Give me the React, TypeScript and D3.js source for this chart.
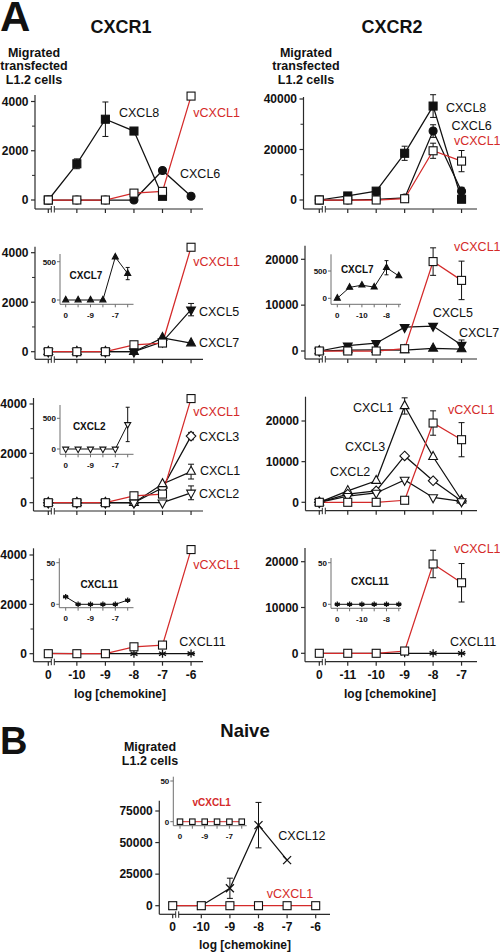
import React from "react";
import * as d3 from "d3";

const FONT = "'Liberation Sans', Arial, Helvetica, sans-serif";
const RED = "#d42a2a";

// ---- dose labels ----
const cxcr1Doses = ["0", "-10", "-9", "-8", "-7", "-6"];
const cxcr2Doses = ["0", "-11", "-10", "-9", "-8", "-7"];
const naiveDoses = ["0", "-10", "-9", "-8", "-7", "-6"];
const cxcr1InsetDoses = ["0", "", "-9", "", "-7", ""];
const cxcr2InsetDoses = ["0", "", "-10", "", "-8", ""];

// ---- CXCR1 data ----
const r1_vCXCL1 = [0, 0, 0, 280, 350, 4220];
const r1_CXCL8 = [0, 1470, 3280, 2800, 150, null];
const r1_CXCL8_err = [0, 200, 700, 0, 0, 0];
const r1_CXCL6 = [0, 0, 0, 0, 1200, 150];
const r1_CXCL5 = [0, 0, 0, 0, 400, 1700];
const r1_CXCL5_err = [0, 0, 0, 0, 0, 250];
const r1_CXCL7 = [0, 0, 0, 0, 560, 345];
const r1_CXCL7_err = [0, 0, 0, 0, 0, 80];
const r1_CXCL3 = [0, 0, 0, 0, 600, 2700];
const r1_CXCL3_err = [0, 0, 0, 0, 0, 150];
const r1_CXCL1 = [0, 0, 0, 0, 760, 1260];
const r1_CXCL1_err = [0, 0, 0, 0, 0, 300];
const r1_CXCL2 = [0, 0, 0, 0, 0, 400];
const r1_CXCL2_err = [0, 0, 0, 0, 0, 280];
const r1_CXCL11 = [9, 0, 0, 0, 0, 5];

// ---- CXCR2 data ----
const r2_vCXCL1 = [0, 0, 0, 500, 19500, 15400];
const r2_vCXCL1_err = [0, 0, 0, 0, 3000, 4200];
const r2_CXCL8 = [0, 1600, 3500, 18500, 37200, 300];
const r2_CXCL8_err = [0, 0, 0, 2800, 4500, 0];
const r2_CXCL6 = [0, 0, 200, 800, 27300, 3500];
const r2_CXCL6_err = [0, 0, 0, 0, 2500, 1500];
const r2_CXCL5 = [0, 1150, 1700, 5200, 5450, 1300];
const r2_CXCL5_err = [0, 0, 0, 0, 0, 1100];
const r2_CXCL7 = [0, 200, 240, 205, 560, 410];
const r2_CXCL7_err = [0, 0, 0, 0, 130, 0];
const r2_CXCL1 = [0, 2800, 5300, 23700, 11200, 500];
const r2_CXCL1_err = [0, 0, 0, 2000, 0, 0];
const r2_CXCL3 = [0, 2000, 2800, 11400, 5300, 300];
const r2_CXCL2 = [0, 1500, 2300, 5500, 1200, 200];
const r2_CXCL11 = [0, 0, 0, 0, 0, 0];

// ---- Naive data ----
const nv_vCXCL1 = [0, 0, 0, 0, 0, 0];
const nv_CXCL12 = [0, 0, 13800, 63800, 36100, null];
const nv_CXCL12_err = [0, 0, 8000, 18000, 0, 0];

type Ser = { v: (number | null)[]; e?: number[]; m: string; fill: boolean; red?: boolean };
type Lbl = { t: string; x: number; y: number; red?: boolean; anchor?: string; bold?: boolean; size?: number };
interface Cfg {
  axisX: number; axisTop: number; xAxisY: number; x0: number; dx: number; xEnd: number;
  yZero: number; yTopVal: number; yTopPx: number; ticks: number[]; minor?: number[];
  xLabels?: string[]; inset?: boolean; series: Ser[]; labels: Lbl[];
}

function Marker({ m, x, y, s, fill }: { m: string; x: number; y: number; s: number; fill: boolean }) {
  const f = fill ? "#111" : "#fff";
  const st = "#111";
  const sw = 1.1;
  if (m === "square")
    return <rect x={x - s / 2} y={y - s / 2} width={s} height={s} fill={f} stroke={st} strokeWidth={sw} />;
  if (m === "circle") return <circle cx={x} cy={y} r={s / 2} fill={f} stroke={st} strokeWidth={sw} />;
  if (m === "triUp" || m === "triDown") {
    const w = s * 1.1;
    const h = s;
    const dir = m === "triUp" ? 1 : -1;
    const p = `M${x},${y - (dir * h * 2) / 3}L${x + w / 2},${y + (dir * h) / 3}L${x - w / 2},${y + (dir * h) / 3}Z`;
    return <path d={p} fill={f} stroke={st} strokeWidth={sw} />;
  }
  if (m === "diamond") {
    const r = s * 0.6;
    return <path d={`M${x},${y - r}L${x + r},${y}L${x},${y + r}L${x - r},${y}Z`} fill={f} stroke={st} strokeWidth={sw} />;
  }
  if (m === "asterisk") {
    const r = s / 2;
    const a = r * 0.87;
    return (
      <path
        d={`M${x},${y - r}L${x},${y + r}M${x - a},${y - r / 2}L${x + a},${y + r / 2}M${x - a},${y + r / 2}L${x + a},${y - r / 2}M${x - r},${y}L${x + r},${y}`}
        stroke={st}
        strokeWidth={1.3}
        fill="none"
      />
    );
  }
  if (m === "times") {
    const r = s / 2;
    return <path d={`M${x - r},${y - r}L${x + r},${y + r}M${x - r},${y + r}L${x + r},${y - r}`} stroke={st} strokeWidth={1.3} fill="none" />;
  }
  return null;
}

function Panel({ c }: { c: Cfg }) {
  const ins = !!c.inset;
  const x = d3.scaleLinear().domain([0, 5]).range([c.x0, c.x0 + 5 * c.dx]);
  const y = d3.scaleLinear().domain([0, c.yTopVal]).range([c.yZero, c.yTopPx]);
  const axisColor = ins ? "#6f6f6f" : "#2a2a2a";
  const aw = ins ? 1 : 1.2;
  const tl = ins ? 3 : 4;
  const ms = ins ? 5.5 : 8;
  const cap = ins ? 2 : 3;
  const line = d3
    .line<[number, number | null]>()
    .defined((d) => d[1] != null)
    .x((d) => x(d[0]))
    .y((d) => y(d[1] as number));
  const fmt = d3.format("d");
  const tickFs = ins ? 8 : 12;
  const ordered = [...c.series.filter((s) => !s.red), ...c.series.filter((s) => s.red)];
  const brkA = c.x0 + 3;
  const brkB = c.x0 + 6;
  return (
    <g>
      {/* axes */}
      <line x1={c.axisX} x2={c.axisX} y1={c.axisTop} y2={c.xAxisY} stroke={axisColor} strokeWidth={aw} />
      {ins ? (
        <line x1={c.axisX} x2={c.xEnd} y1={c.xAxisY} y2={c.xAxisY} stroke={axisColor} strokeWidth={aw} />
      ) : (
        <g>
          <line x1={c.axisX} x2={brkA} y1={c.xAxisY} y2={c.xAxisY} stroke={axisColor} strokeWidth={aw} />
          <line x1={brkB} x2={c.xEnd} y1={c.xAxisY} y2={c.xAxisY} stroke={axisColor} strokeWidth={aw} />
          <line x1={brkA} x2={brkA} y1={c.xAxisY - 3} y2={c.xAxisY + 3.5} stroke={axisColor} strokeWidth={1} />
          <line x1={brkB} x2={brkB} y1={c.xAxisY - 3} y2={c.xAxisY + 3.5} stroke={axisColor} strokeWidth={1} />
        </g>
      )}
      {d3.range(6).map((i) => (
        <line key={"xt" + i} x1={x(i)} x2={x(i)} y1={c.xAxisY} y2={c.xAxisY + tl} stroke={axisColor} strokeWidth={aw} />
      ))}
      {c.ticks.map((t) => (
        <g key={"yt" + t}>
          <line x1={c.axisX - tl} x2={c.axisX} y1={y(t)} y2={y(t)} stroke={axisColor} strokeWidth={aw} />
          <text
            x={c.axisX - (ins ? 4 : 6.5)}
            y={y(t) + (ins ? 3 : 4.3)}
            textAnchor="end"
            fontSize={tickFs}
            fontWeight="bold"
            fontFamily={FONT}
            fill="#111"
          >
            {fmt(t)}
          </text>
        </g>
      ))}
      {(c.minor || []).map((t) => (
        <line key={"mt" + t} x1={c.axisX - 3} x2={c.axisX} y1={y(t)} y2={y(t)} stroke={axisColor} strokeWidth={1} />
      ))}
      {c.xLabels &&
        c.xLabels.map((l, i) =>
          l ? (
            <text
              key={"xl" + i}
              x={x(i)}
              y={c.xAxisY + (ins ? 13.5 : 17)}
              textAnchor="middle"
              fontSize={ins ? 8 : 12}
              fontWeight="bold"
              fontFamily={FONT}
              fill="#111"
            >
              {l}
            </text>
          ) : null
        )}
      {/* lines */}
      {ordered.map((s, si) => (
        <path
          key={"ln" + si}
          d={line(s.v.map((v, i) => [i, v] as [number, number | null])) || ""}
          fill="none"
          stroke={s.red ? RED : "#111"}
          strokeWidth={ins ? 1 : 1.25}
        />
      ))}
      {/* error bars */}
      {ordered.map((s, si) =>
        (s.e || []).map((e, i) =>
          e > 0 && s.v[i] != null ? (
            <g key={"eb" + si + "_" + i} stroke="#111" strokeWidth={1}>
              <line x1={x(i)} x2={x(i)} y1={y((s.v[i] as number) + e)} y2={y((s.v[i] as number) - e)} />
              <line x1={x(i) - cap} x2={x(i) + cap} y1={y((s.v[i] as number) + e)} y2={y((s.v[i] as number) + e)} />
              <line x1={x(i) - cap} x2={x(i) + cap} y1={y((s.v[i] as number) - e)} y2={y((s.v[i] as number) - e)} />
            </g>
          ) : null
        )
      )}
      {/* markers */}
      {ordered.map((s, si) =>
        s.v.map((v, i) =>
          v == null ? null : <Marker key={"mk" + si + "_" + i} m={s.m} x={x(i)} y={y(v)} s={ms} fill={s.fill} />
        )
      )}
      {c.labels.map((l, i) => (
        <text
          key={"lb" + i}
          x={l.x}
          y={l.y}
          textAnchor={l.anchor || "start"}
          fontSize={l.size || 12.5}
          fontWeight={l.bold ? "bold" : "normal"}
          fontFamily={FONT}
          fill={l.red ? RED : "#111"}
        >
          {l.t}
        </text>
      ))}
    </g>
  );
}

const L = { axisX: 35, x0: 48.3, dx: 28.55, xEnd: 203 };
const R = { axisX: 305, x0: 319.3, dx: 28.45, xEnd: 477 };
const IL = { axisX: 60, x0: 65.7, dx: 12.4, xEnd: 133.5, inset: true };
const IR = { axisX: 331, x0: 337.3, dx: 12.3, xEnd: 401, inset: true };

const panels: Cfg[] = [
  // Row 1 CXCR1
  {
    ...L, axisTop: 95, xAxisY: 209, yZero: 200, yTopVal: 4000, yTopPx: 101.5,
    ticks: [0, 2000, 4000], minor: [1000, 3000],
    series: [
      { v: r1_CXCL8, e: r1_CXCL8_err, m: "square", fill: true },
      { v: r1_CXCL6, m: "circle", fill: true },
      { v: r1_vCXCL1, m: "square", fill: false, red: true },
    ],
    labels: [
      { t: "CXCL8", x: 119, y: 117 },
      { t: "vCXCL1", x: 193.3, y: 117, red: true },
      { t: "CXCL6", x: 180, y: 178 },
    ],
  },
  // Row 1 CXCR2
  {
    ...R, axisX: 303.5, axisTop: 97, xAxisY: 209, yZero: 200, yTopVal: 40000, yTopPx: 99,
    ticks: [0, 20000, 40000], minor: [10000, 30000],
    series: [
      { v: r2_CXCL8, e: r2_CXCL8_err, m: "square", fill: true },
      { v: r2_CXCL6, e: r2_CXCL6_err, m: "circle", fill: true },
      { v: r2_vCXCL1, e: r2_vCXCL1_err, m: "square", fill: false, red: true },
    ],
    labels: [
      { t: "CXCL8", x: 446, y: 112 },
      { t: "CXCL6", x: 451.5, y: 129.5 },
      { t: "vCXCL1", x: 454, y: 144.5, red: true },
    ],
  },
  // Row 2 left
  {
    ...L, axisTop: 246.7, xAxisY: 359.3, yZero: 351.7, yTopVal: 4000, yTopPx: 252.7,
    ticks: [0, 2000, 4000], minor: [1000, 3000],
    series: [
      { v: r1_CXCL5, e: r1_CXCL5_err, m: "triDown", fill: true },
      { v: r1_CXCL7, m: "triUp", fill: true },
      { v: r1_vCXCL1, m: "square", fill: false, red: true },
    ],
    labels: [
      { t: "vCXCL1", x: 193.3, y: 266, red: true },
      { t: "CXCL5", x: 199, y: 315.5 },
      { t: "CXCL7", x: 199, y: 347 },
    ],
  },
  {
    ...IL, axisTop: 254, xAxisY: 304.3, yZero: 300, yTopVal: 500, yTopPx: 261.7,
    ticks: [0, 500], xLabels: cxcr1InsetDoses,
    series: [{ v: r1_CXCL7, e: r1_CXCL7_err, m: "triUp", fill: true }],
    labels: [{ t: "CXCL7", x: 86, y: 278.5, anchor: "middle", bold: true, size: 10 }],
  },
  // Row 2 right
  {
    ...R, axisTop: 245.7, xAxisY: 359, yZero: 351, yTopVal: 20000, yTopPx: 259.3,
    ticks: [0, 10000, 20000],
    series: [
      { v: r2_CXCL5, e: r2_CXCL5_err, m: "triDown", fill: true },
      { v: r2_CXCL7, m: "triUp", fill: true },
      { v: r2_vCXCL1, e: r2_vCXCL1_err, m: "square", fill: false, red: true },
    ],
    labels: [
      { t: "vCXCL1", x: 454, y: 251, red: true },
      { t: "CXCL5", x: 432.7, y: 316.8 },
      { t: "CXCL7", x: 459, y: 336.8 },
    ],
  },
  {
    ...IR, axisTop: 254.3, xAxisY: 304.3, yZero: 298.3, yTopVal: 500, yTopPx: 271,
    ticks: [0, 500], xLabels: cxcr2InsetDoses,
    series: [{ v: r2_CXCL7, e: r2_CXCL7_err, m: "triUp", fill: true }],
    labels: [{ t: "CXCL7", x: 357.3, y: 272.5, anchor: "middle", bold: true, size: 10 }],
  },
  // Row 3 left
  {
    ...L, axisX: 33.5, axisTop: 398, xAxisY: 511, yZero: 502.7, yTopVal: 4000, yTopPx: 404,
    ticks: [0, 2000, 4000], minor: [1000, 3000],
    series: [
      { v: r1_CXCL3, e: r1_CXCL3_err, m: "diamond", fill: false },
      { v: r1_CXCL1, e: r1_CXCL1_err, m: "triUp", fill: false },
      { v: r1_CXCL2, e: r1_CXCL2_err, m: "triDown", fill: false },
      { v: r1_vCXCL1, m: "square", fill: false, red: true },
    ],
    labels: [
      { t: "vCXCL1", x: 193.3, y: 416, red: true },
      { t: "CXCL3", x: 199, y: 441 },
      { t: "CXCL1", x: 200, y: 474.5 },
      { t: "CXCL2", x: 199, y: 497.8 },
    ],
  },
  {
    ...IL, axisTop: 405, xAxisY: 454.3, yZero: 449, yTopVal: 500, yTopPx: 418.3,
    ticks: [0, 500], xLabels: cxcr1InsetDoses,
    series: [{ v: r1_CXCL2, e: r1_CXCL2_err, m: "triDown", fill: false }],
    labels: [{ t: "CXCL2", x: 89.3, y: 430, anchor: "middle", bold: true, size: 10 }],
  },
  // Row 3 right
  {
    ...R, axisX: 305.5, axisTop: 396.7, xAxisY: 510.7, yZero: 502.3, yTopVal: 20000, yTopPx: 421,
    ticks: [0, 10000, 20000],
    series: [
      { v: r2_CXCL1, e: r2_CXCL1_err, m: "triUp", fill: false },
      { v: r2_CXCL3, m: "diamond", fill: false },
      { v: r2_CXCL2, m: "triDown", fill: false },
      { v: r2_vCXCL1, e: r2_vCXCL1_err, m: "square", fill: false, red: true },
    ],
    labels: [
      { t: "CXCL1", x: 353, y: 412 },
      { t: "CXCL3", x: 345, y: 450.5 },
      { t: "CXCL2", x: 330, y: 476 },
      { t: "vCXCL1", x: 448, y: 413.5, red: true },
    ],
  },
  // Row 4 left
  {
    ...L, axisX: 33.5, axisTop: 548.3, xAxisY: 661.7, yZero: 653.7, yTopVal: 4000, yTopPx: 555,
    ticks: [0, 2000, 4000], minor: [1000, 3000], xLabels: cxcr1Doses,
    series: [
      { v: r1_CXCL11, m: "asterisk", fill: false },
      { v: r1_vCXCL1, m: "square", fill: false, red: true },
    ],
    labels: [
      { t: "vCXCL1", x: 193.3, y: 568.8, red: true },
      { t: "CXCL11", x: 179.3, y: 645.5 },
    ],
  },
  {
    ...IL, axisX: 59.3, axisTop: 558.3, xAxisY: 607.7, yZero: 604.3, yTopVal: 50, yTopPx: 562.7,
    ticks: [0, 50], xLabels: cxcr1InsetDoses,
    series: [{ v: r1_CXCL11, m: "asterisk", fill: false }],
    labels: [{ t: "CXCL11", x: 99.3, y: 587.5, anchor: "middle", bold: true, size: 10 }],
  },
  // Row 4 right
  {
    ...R, axisTop: 548, xAxisY: 661.7, yZero: 653.3, yTopVal: 20000, yTopPx: 561.7,
    ticks: [0, 10000, 20000], xLabels: cxcr2Doses,
    series: [
      { v: r2_CXCL11, m: "asterisk", fill: false },
      { v: r2_vCXCL1, e: r2_vCXCL1_err, m: "square", fill: false, red: true },
    ],
    labels: [
      { t: "vCXCL1", x: 454, y: 552.8, red: true },
      { t: "CXCL11", x: 450, y: 645.5 },
    ],
  },
  {
    ...IR, axisTop: 558, xAxisY: 608.3, yZero: 604.3, yTopVal: 50, yTopPx: 562.7,
    ticks: [0, 50], xLabels: cxcr2InsetDoses,
    series: [{ v: r2_CXCL11, m: "asterisk", fill: false }],
    labels: [{ t: "CXCL11", x: 370, y: 585, anchor: "middle", bold: true, size: 10 }],
  },
  // Panel B
  {
    axisX: 159.3, x0: 172.7, dx: 28.6, xEnd: 330, axisTop: 800.7, xAxisY: 914.3, yZero: 905.7,
    yTopVal: 75000, yTopPx: 811, ticks: [0, 25000, 50000, 75000], xLabels: naiveDoses,
    series: [
      { v: nv_CXCL12, e: nv_CXCL12_err, m: "times", fill: false },
      { v: nv_vCXCL1, m: "square", fill: false, red: true },
    ],
    labels: [
      { t: "CXCL12", x: 278.3, y: 839.5 },
      { t: "vCXCL1", x: 266.7, y: 897.8, red: true },
    ],
  },
  {
    axisX: 173.3, x0: 180, dx: 12.35, xEnd: 246.7, inset: true, axisTop: 776.7, xAxisY: 825.7,
    yZero: 821.7, yTopVal: 50, yTopPx: 781, ticks: [0, 50], xLabels: cxcr1InsetDoses,
    series: [{ v: nv_vCXCL1, m: "square", fill: false, red: true }],
    labels: [{ t: "vCXCL1", x: 211.7, y: 805.5, anchor: "middle", bold: true, size: 10, red: true }],
  },
];

function T({ x, y, t, size, anchor = "middle", bold = true }: any) {
  return (
    <text x={x} y={y} fontSize={size} textAnchor={anchor} fontWeight={bold ? "bold" : "normal"} fontFamily={FONT} fill="#111">
      {t}
    </text>
  );
}

export default function App() {
  return (
    <svg width={500} height={952} style={{ position: "absolute", left: 0, top: 0, background: "#fff" }}>
      <rect width={500} height={952} fill="#fff" />
      <T x={0} y={31} t="A" size={42} anchor="start" />
      <T x={121} y={33.3} t="CXCR1" size={18} />
      <T x={392} y={33.3} t="CXCR2" size={18} />
      <T x={34} y={57} t="Migrated" size={12.5} />
      <T x={34} y={70} t="transfected" size={12.5} />
      <T x={34} y={83.5} t="L1.2 cells" size={12.5} />
      <T x={306} y={57} t="Migrated" size={12.5} />
      <T x={306} y={70} t="transfected" size={12.5} />
      <T x={306} y={83.5} t="L1.2 cells" size={12.5} />
      <T x={120} y={697.5} t="log [chemokine]" size={12} />
      <T x={390} y={697.5} t="log [chemokine]" size={12} />
      <T x={0} y={754} t="B" size={38} anchor="start" />
      <T x={245} y={736.5} t="Naive" size={18.5} />
      <T x={150} y={750.5} t="Migrated" size={12.5} />
      <T x={150} y={764.5} t="L1.2 cells" size={12.5} />
      <T x={245} y={949} t="log [chemokine]" size={12} />
      {panels.map((c, i) => (
        <Panel key={i} c={c} />
      ))}
    </svg>
  );
}
